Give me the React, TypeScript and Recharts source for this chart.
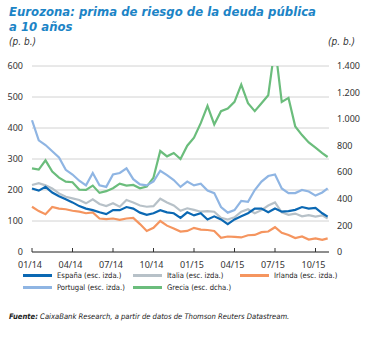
import React from 'react';
import { LineChart, Line, XAxis, YAxis, CartesianGrid } from 'recharts';

// meses desde 01/2014 (0 = enero 2014)
const months = [
  0, 0.5, 1, 1.5, 2, 2.5, 3, 3.5, 4, 4.5, 5, 5.5, 6, 6.5, 7, 7.5, 8, 8.5, 9, 9.5,
  10, 10.5, 11, 11.5, 12, 12.5, 13, 13.5, 14, 14.5, 15, 15.5, 16, 16.5, 17, 17.5,
  18, 18.5, 19, 19.5, 20, 20.5, 21, 21.5, 21.9,
];

const espana = [
  205, 198, 210, 192, 180, 170, 160, 148, 140, 135, 128, 122, 135, 135, 145, 140, 127, 120, 125, 135,
  128, 125, 110, 128, 118, 125, 105, 115, 105, 90, 105, 115, 125, 140, 140, 128,
  140, 130, 132, 136, 145, 140, 142, 125, 114,
];
const italia = [
  216, 222, 215, 205, 189, 178, 173, 168, 157, 170, 155, 148, 157, 146, 168, 160, 150, 146, 148, 172,
  160, 150, 133, 141, 136, 130, 132, 130, 110, 105, 112, 130, 138, 125, 135, 150,
  160, 128, 120, 124, 115, 119, 114, 118, 108,
];
const irlanda = [
  146, 132, 122, 145, 140, 138, 133, 130, 125, 128, 108, 106, 108, 104, 108, 110, 90, 68, 78, 100,
  85, 76, 66, 68, 78, 72, 71, 68, 46, 50, 49, 47, 54, 55, 64, 66,
  80, 62, 55, 45, 50, 40, 44, 39, 44,
];
const portugal = [
  425, 360, 345, 325, 305, 265, 250, 230, 215, 255, 215, 210, 250, 255, 270, 235, 218, 215, 228, 262,
  248, 232, 210, 227, 215, 220, 198, 190, 145, 127, 135, 165, 162, 200, 227, 245,
  250, 205, 190, 190, 200, 195, 182, 192, 205,
];
const grecia = [
  630, 620, 690, 605, 560, 530, 525, 470, 468, 500, 445, 458, 480, 515, 500, 505, 480, 492, 560, 760,
  720, 745, 700, 800, 860, 970, 1100, 960, 1060, 1080, 1130, 1260, 1120, 1060, 1120, 1180,
  1550, 1130, 1160, 945, 880, 825, 785, 745, 715,
];

const tickMonths = [0, 3, 6, 9, 12, 15, 18, 21];
const tickLabels = ['01/14', '04/14', '07/14', '10/14', '01/15', '04/15', '07/15', '10/15'];
const leftTicks = [0, 100, 200, 300, 400, 500, 600];
const rightTicks = [0, 200, 400, 600, 800, 1000, 1200, 1400];

const colors = {
  espana: '#0b68b3',
  italia: '#b7c1c8',
  irlanda: '#f5955f',
  portugal: '#8fb5e3',
  grecia: '#6bbd7c',
};

const data = months.map((m, i) => ({
  m,
  espana: espana[i],
  italia: italia[i],
  irlanda: irlanda[i],
  portugal: portugal[i],
  grecia: grecia[i],
}));

const narrow = '"DejaVu Sans Condensed", "Liberation Sans Narrow", sans-serif';
const tickFont = { fontSize: 9, fill: '#333', fontFamily: '"Noto Sans", sans-serif' };

const legendItems = [
  { label: 'España (esc. izda.)', color: colors.espana, x: 23, y: 275 },
  { label: 'Italia (esc. izda.)', color: colors.italia, x: 133, y: 275 },
  { label: 'Irlanda (esc. izda.)', color: colors.irlanda, x: 240, y: 275 },
  { label: 'Portugal (esc. izda.)', color: colors.portugal, x: 23, y: 287 },
  { label: 'Grecia (esc. dcha.)', color: colors.grecia, x: 133, y: 287 },
];

const fmtThousands = (v: number) => (v >= 1000 ? `${Math.floor(v / 1000)}.${String(v % 1000).padStart(3, '0')}` : String(v));

export default function App() {
  return (
    <div style={{ position: 'absolute', left: 0, top: 0, width: 376, height: 338, background: '#fff', overflow: 'hidden' }}>
      <div style={{ position: 'absolute', left: 9, top: 4, fontFamily: narrow, fontWeight: 'bold', fontStyle: 'italic', fontSize: 13, lineHeight: '15px', color: '#1c84c6' }}>
        Eurozona: prima de riesgo de la deuda pública<br />a 10 años
      </div>
      <div style={{ position: 'absolute', left: 9, top: 36, fontFamily: narrow, fontStyle: 'italic', fontSize: 10, color: '#333' }}>(p. b.)</div>
      <div style={{ position: 'absolute', left: 328, top: 36, fontFamily: narrow, fontStyle: 'italic', fontSize: 10, color: '#333' }}>(p. b.)</div>

      <div style={{ position: 'absolute', left: 0, top: 0 }}>
        <LineChart width={376} height={275} data={data} margin={{ top: 66, right: 5, bottom: 3, left: 2 }}>
          <CartesianGrid yAxisId="left" vertical={false} stroke="#d2d2d2" strokeWidth={1} />
          <XAxis
            dataKey="m"
            type="number"
            domain={[0, 22]}
            ticks={tickMonths}
            tickFormatter={(v: number) => tickLabels[tickMonths.indexOf(v)]}
            tick={{ ...tickFont, dx: -2 }}
            tickSize={-4}
            tickMargin={14}
            height={20}
            stroke="#333"
            axisLine={{ stroke: '#333' }}
            tickLine={{ stroke: '#333' }}
          />
          <YAxis
            yAxisId="left"
            domain={[0, 600]}
            ticks={leftTicks}
            width={30}
            axisLine={false}
            tickLine={false}
            tickSize={0}
            tickMargin={9}
            tick={tickFont}
          />
          <YAxis
            yAxisId="right"
            orientation="right"
            domain={[0, 1400]}
            ticks={rightTicks}
            allowDataOverflow
            width={42}
            axisLine={false}
            tickLine={false}
            tickSize={0}
            tickMargin={8}
            tick={{ ...tickFont, textAnchor: 'start' }}
            tickFormatter={fmtThousands}
          />
          <Line yAxisId="right" dataKey="grecia" stroke={colors.grecia} strokeWidth={2.2} dot={false} isAnimationActive={false} />
          <Line yAxisId="left" dataKey="portugal" stroke={colors.portugal} strokeWidth={2.2} dot={false} isAnimationActive={false} />
          <Line yAxisId="left" dataKey="irlanda" stroke={colors.irlanda} strokeWidth={2.2} dot={false} isAnimationActive={false} />
          <Line yAxisId="left" dataKey="italia" stroke={colors.italia} strokeWidth={2.2} dot={false} isAnimationActive={false} />
          <Line yAxisId="left" dataKey="espana" stroke={colors.espana} strokeWidth={2.2} dot={false} isAnimationActive={false} />
        </LineChart>
      </div>

      {legendItems.map((it) => (
        <div key={it.label} style={{ position: 'absolute', left: it.x, top: it.y - 6, height: 12, display: 'flex', alignItems: 'center' }}>
          <div style={{ width: 29, height: 3, background: it.color, marginRight: 5 }} />
          <span style={{ fontFamily: narrow, fontSize: 7.6, color: '#222', whiteSpace: 'nowrap' }}>{it.label}</span>
        </div>
      ))}

      <div style={{ position: 'absolute', left: 9, top: 312, fontFamily: narrow, fontStyle: 'italic', fontSize: 7.6, color: '#222', whiteSpace: 'nowrap' }}>
        <b>Fuente:</b> CaixaBank Research, a partir de datos de Thomson Reuters Datastream.
      </div>
    </div>
  );
}
